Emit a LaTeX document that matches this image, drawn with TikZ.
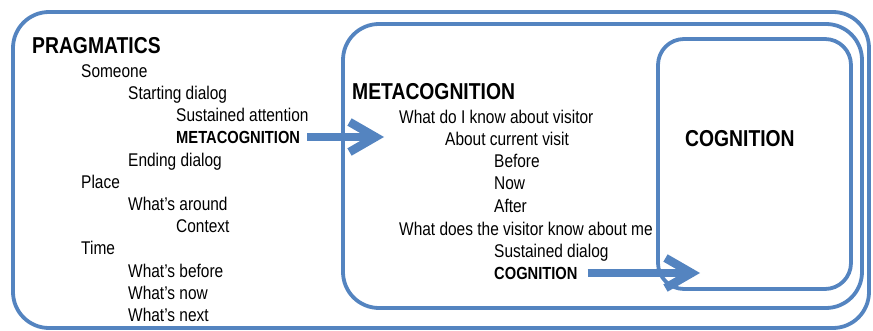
\documentclass[tikz,border=0pt]{standalone}
\usepackage{fontspec}
\setmainfont{Liberation Sans}[FakeStretch=0.84]
\usetikzlibrary{arrows.meta}
\definecolor{frameblue}{RGB}{84,132,192}
\tikzset{
  frame/.style={draw=frameblue, line width=3.8pt, rounded corners=36pt},
  item/.style={anchor=west, inner sep=0pt, text height=13.2pt, text depth=0pt, font=\fontsize{18.4}{20}\selectfont},
  keyitem/.style={item, text height=12.5pt, font=\fontsize{17.5}{20}\selectfont\bfseries},
  heading/.style={item, text height=16.5pt, font=\fontsize{23}{26}\selectfont\bfseries},
  flow/.style={draw=frameblue, line width=7.5pt, -{Straight Barb[length=26pt,width=30pt,line width=8.5pt]}}
}
\begin{document}
\begin{tikzpicture}[x=1pt,y=-1pt]
\useasboundingbox (0,0) rectangle (873,331);
% the three frames
\draw[frame] (13,12) rectangle (869,328);
\draw[frame] (343,24) rectangle (862,308);
\draw[frame, rounded corners=26pt] (658,39) rectangle (851,289);
% pragmatics
\node[heading] (prag) at (32,45) {PRAGMATICS};
\node[item] (someone) at (81,71) {Someone};
\node[item] (start) at (128,93) {Starting dialog};
\node[item] (attn) at (176,115) {Sustained attention};
\node[keyitem] (meta) at (176,137) {METACOGNITION};
\node[item] (ending) at (128,160) {Ending dialog};
\node[item] (place) at (81,182) {Place};
\node[item] (around) at (128,204) {What’s around};
\node[item] (context) at (176,226) {Context};
\node[item] (time) at (81,248) {Time};
\node[item] (before) at (128,271) {What’s before};
\node[item] (now) at (128,293) {What’s now};
\node[item] (next) at (128,315) {What’s next};
% metacognition
\node[heading] (metahead) at (352,91) {METACOGNITION};
\node[item] (visitor) at (399,117) {What do I know about visitor};
\node[item] (visit) at (445,139) {About current visit};
\node[item] (vbefore) at (494,161) {Before};
\node[item] (vnow) at (494,183) {Now};
\node[item] (vafter) at (494,206) {After};
\node[item] (aboutme) at (399,229) {What does the visitor know about me};
\node[item] (dialog) at (494,251) {Sustained dialog};
\node[keyitem] (cogn) at (494,273) {COGNITION};
% cognition
\node[heading] (cognhead) at (685,138) {COGNITION};
% arrows
\coordinate (tip1) at (384,137);
\coordinate (tip2) at (700,273);
\draw[flow] ([xshift=7pt]meta.east) -- (tip1);
\draw[flow] ([xshift=10pt]cogn.east) -- (tip2);
\end{tikzpicture}
\end{document}
